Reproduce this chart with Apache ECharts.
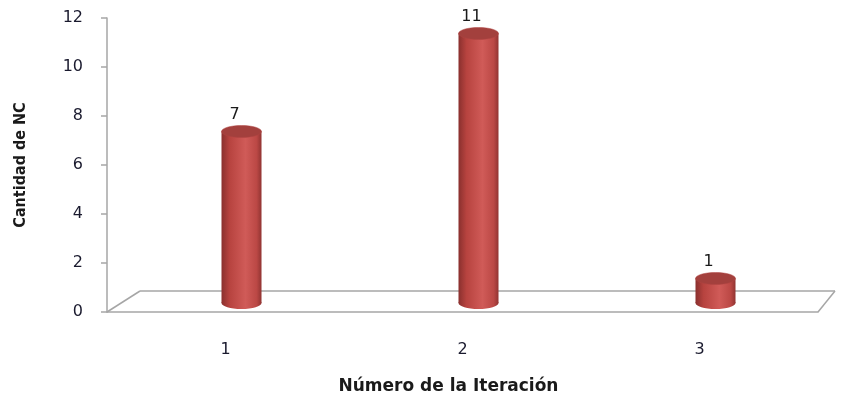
<!DOCTYPE html>
<html>
<head>
<meta charset="utf-8">
<script src="https://cdn.jsdelivr.net/npm/echarts@6/dist/echarts.min.js"></script>
<style>html,body{margin:0;padding:0;background:#fff}#c{width:841px;height:400px}</style>
</head>
<body>
<div id="c"></div>
<script>
const categories = ['1', '2', '3'];
const values = [7, 11, 1];
const yTicks = { min: 0, max: 12, interval: 2 };
const xTitle = 'Número de la Iteración';
const yTitle = 'Cantidad de NC';

const chart = echarts.init(document.getElementById('c'));
const DX = 16, DY = -9, BW = 40, RY = 6;
const FX = 33, FY = -21;

function renderItem(params, api) {
  const idx = api.value(0);
  const v = api.value(1);
  const base = api.coord([idx, 0]);
  const top = api.coord([idx, v]);
  const cx = base[0] + DX;
  const yb = base[1] + DY;
  const yt = top[1] + DY;
  const children = [];
  if (params.dataIndex === 0) {
    const cs = params.coordSys;
    const x0 = cs.x, y0 = cs.y + cs.height, x1 = cs.x + cs.width;
    const ls = { stroke: '#a6a6a6', lineWidth: 1.5 };
    children.push({ type: 'line', shape: { x1: x0, y1: y0, x2: x0 + FX, y2: y0 + FY }, style: ls });
    children.push({ type: 'line', shape: { x1: x0 + FX, y1: y0 + FY, x2: x1 + 17, y2: y0 + FY }, style: ls });
    children.push({ type: 'line', shape: { x1: x1, y1: y0, x2: x1 + 17, y2: y0 + FY }, style: ls });
  }
  const grad = new echarts.graphic.LinearGradient(0, 0, 1, 0, [
    { offset: 0, color: '#8a302e' },
    { offset: 0.2, color: '#b7433f' },
    { offset: 0.6, color: '#d05b58' },
    { offset: 0.88, color: '#bb4845' },
    { offset: 1, color: '#913432' }
  ]);
  children.push({ type: 'ellipse', shape: { cx: cx, cy: yb, rx: BW / 2, ry: RY }, style: { fill: grad } });
  children.push({ type: 'rect', shape: { x: cx - BW / 2, y: yt, width: BW, height: yb - yt }, style: { fill: grad } });
  children.push({ type: 'ellipse', shape: { cx: cx, cy: yt, rx: BW / 2, ry: RY }, style: { fill: '#a3403d', stroke: '#b04542', lineWidth: 0.5 } });
  children.push({ type: 'text', style: { text: String(v), x: cx - 7, y: yt - RY - 3, align: 'center', verticalAlign: 'bottom', fill: '#1a1a1a', font: '16px "DejaVu Sans"' } });
  return { type: 'group', children: children };
}

chart.setOption({
  animation: false,
  grid: { left: 107, right: 23, top: 18, bottom: 87 },
  xAxis: {
    type: 'category',
    data: categories,
    name: xTitle,
    nameLocation: 'middle',
    nameGap: 66,
    nameTextStyle: { fontFamily: 'DejaVu Sans', fontWeight: 'bold', fontSize: 17, color: '#1a1a1a', padding: [0, 28, 0, 0] },
    axisLine: { lineStyle: { color: '#a6a6a6', width: 1.5 } },
    axisTick: { show: false },
    axisLabel: { margin: 30, fontFamily: 'DejaVu Sans', fontSize: 16, color: '#1a1a2e' },
    splitLine: { show: false }
  },
  yAxis: {
    type: 'value',
    min: yTicks.min, max: yTicks.max, interval: yTicks.interval,
    name: yTitle,
    nameLocation: 'middle',
    nameGap: 78,
    nameTextStyle: { fontFamily: 'DejaVu Sans Condensed', fontWeight: 'bold', fontSize: 16, color: '#1a1a1a' },
    axisLine: { show: true, lineStyle: { color: '#a6a6a6', width: 1.5 } },
    axisTick: { show: true, length: 6, lineStyle: { color: '#a6a6a6', width: 1.5 } },
    axisLabel: { margin: 24, fontFamily: 'DejaVu Sans', fontSize: 16, color: '#1a1a2e' },
    splitLine: { show: false }
  },
  series: [{
    type: 'custom',
    renderItem: renderItem,
    encode: { x: 0, y: 1 },
    data: values.map((v, i) => [i, v]),
    clip: false
  }]
});
</script>
</body>
</html>
